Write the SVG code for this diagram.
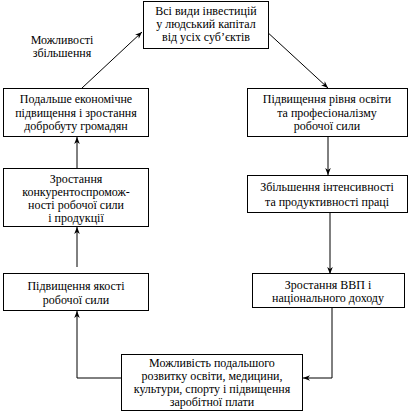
<svg xmlns="http://www.w3.org/2000/svg" width="409" height="413" viewBox="0 0 409 413">
<style>
rect{fill:#fff;stroke:#000;stroke-width:1}
text{font-family:"Liberation Serif","Times New Roman",serif;font-size:12px;fill:#000;text-anchor:middle}
.c{fill:none;stroke:#000;stroke-width:1}
</style>
<defs>
<marker id="a" viewBox="0 0 10 10" refX="10" refY="5" markerWidth="7" markerHeight="7" orient="auto" markerUnits="userSpaceOnUse">
<path d="M0,1 L10,5 L0,9 L3,5 Z" fill="#000"/>
</marker>
</defs>
<rect x="0" y="0" width="409" height="413" style="fill:#fff;stroke:none"/>
<g id="connectors">
<path class="c" d="M82,88 L142,32" marker-end="url(#a)"/>
<path class="c" d="M265,30 L328,88" marker-end="url(#a)"/>
<path class="c" d="M328,137 L328,175" marker-end="url(#a)"/>
<path class="c" d="M330,212 L330,274" marker-end="url(#a)"/>
<path class="c" d="M332,308 L332,378 L303,378" marker-end="url(#a)"/>
<path class="c" d="M121,378 L77,378 L77,311" marker-end="url(#a)"/>
<path class="c" d="M77,267 L77,227" marker-end="url(#a)"/>
<path class="c" d="M77,168 L77,137" marker-end="url(#a)"/>
</g>
<g id="label">
<text x="62" y="44">Можливості</text>
<text x="62" y="57">збільшення</text>
</g>
<g id="n1">
<rect x="143.5" y="1.5" width="125" height="47"/>
<text x="206" y="15">Всі види інвестицій</text>
<text x="206" y="28">у людський капітал</text>
<text x="206" y="41">від усіх суб’єктів</text>
</g>
<g id="n2">
<rect x="247.5" y="88.5" width="160" height="48"/>
<text x="327" y="103">Підвищення рівня освіти</text>
<text x="327" y="117">та професіоналізму</text>
<text x="327" y="130">робочої сили</text>
</g>
<g id="n3">
<rect x="247.5" y="175.5" width="160" height="37"/>
<text x="327" y="191">Збільшення інтенсивності</text>
<text x="327" y="206">та продуктивності праці</text>
</g>
<g id="n4">
<rect x="252.5" y="273.5" width="152" height="34"/>
<text x="328" y="289">Зростання ВВП і</text>
<text x="328" y="302">національного доходу</text>
</g>
<g id="n5">
<rect x="121.5" y="354.5" width="181" height="56"/>
<text x="212" y="367">Можливість подальшого</text>
<text x="212" y="380">розвитку освіти, медицини,</text>
<text x="212" y="393">культури, спорту і підвищення</text>
<text x="212" y="406">заробітної плати</text>
</g>
<g id="n6">
<rect x="3.5" y="273.5" width="145" height="37"/>
<text x="76" y="290">Підвищення якості</text>
<text x="76" y="304">робочої сили</text>
</g>
<g id="n7">
<rect x="3.5" y="168.5" width="145" height="58"/>
<text x="76" y="183">Зростання</text>
<text x="76" y="196">конкурентоспромож-</text>
<text x="76" y="209">ності робочої сили</text>
<text x="76" y="222">і продукції</text>
</g>
<g id="n8">
<rect x="3.5" y="88.5" width="145" height="48"/>
<text x="76" y="103">Подальше економічне</text>
<text x="76" y="117">підвищення і зростання</text>
<text x="76" y="130">добробуту громадян</text>
</g>
</svg>
